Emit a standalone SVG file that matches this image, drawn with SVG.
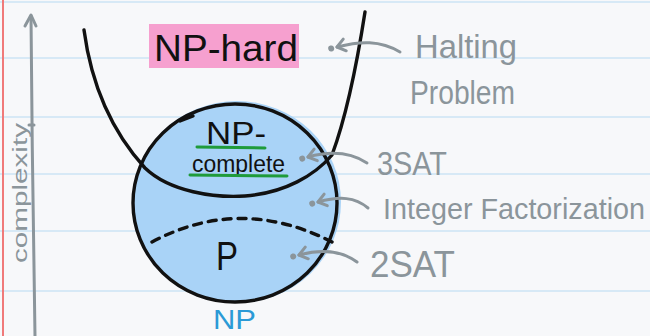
<svg xmlns="http://www.w3.org/2000/svg" width="650" height="336" viewBox="0 0 650 336">
<defs>
<style>
.paper{fill:#f7f8fa}
.rule{stroke:#cde5f4;stroke-width:1.6}
.ink{fill:none;stroke:#111;stroke-width:3.4;stroke-linecap:round;stroke-linejoin:round}
.gray{fill:none;stroke:#8b959b;stroke-width:3;stroke-linecap:round;stroke-linejoin:round}
.hand{font-family:"Liberation Sans","DejaVu Sans",sans-serif}
.note{fill:#8b959b}
.blk{fill:#111}
.grn{stroke:#1f9b3a;stroke-width:3;stroke-linecap:round}
</style>
<marker id="pt" viewBox="-14 -10 26 20" refX="0" refY="0" markerWidth="26" markerHeight="20" markerUnits="userSpaceOnUse" orient="auto" overflow="visible">
<path d="M-8,-6 L0,0 L-8,6" fill="none" stroke="#8b959b" stroke-width="3" stroke-linecap="round" stroke-linejoin="round"/>
<circle cx="6" cy="0" r="3" fill="#8b959b"/>
</marker>
</defs>
<rect class="paper" x="0" y="0" width="650" height="336"/>
<g id="paper-lines">
<line class="rule" x1="0" y1="2" x2="650" y2="2"/>
<line class="rule" x1="0" y1="58" x2="650" y2="58"/>
<line class="rule" x1="0" y1="117" x2="650" y2="117"/>
<line class="rule" x1="0" y1="174" x2="650" y2="174"/>
<line class="rule" x1="0" y1="231" x2="650" y2="231"/>
<line class="rule" x1="0" y1="291" x2="650" y2="291"/>
<line x1="3" y1="0" x2="3" y2="336" stroke="#f07a7a" stroke-width="2"/>
</g>
<g id="axis">
<path class="gray" d="M31,16 C32,120 33,240 35,336"/>
<path class="gray" d="M25,26 L31,15 L36,26"/>
<path class="gray" d="M29,125 L34,125"/>
<text class="hand note" font-size="21" transform="translate(27,263) rotate(-90)" textLength="140" lengthAdjust="spacingAndGlyphs">complexity</text>
</g>
<g id="np">
<ellipse cx="237" cy="202" rx="104" ry="101" fill="#a9d3f7"/>
<ellipse class="ink" cx="235" cy="203" rx="102" ry="99"/>
<path class="ink" d="M180,121 L193,116"/>
<text class="hand" font-size="28" fill="#2b9ad6" x="213" y="329" textLength="43" lengthAdjust="spacingAndGlyphs">NP</text>
</g>
<g id="p">
<path class="ink" d="M152,242 Q240,195 332,242" stroke-dasharray="8 7"/>
<text class="hand blk" font-size="40" x="216" y="270" textLength="22" lengthAdjust="spacingAndGlyphs">P</text>
</g>
<g id="np-hard">
<rect x="149" y="24" width="150" height="44" fill="#f6a0cf"/>
<path class="ink" d="M84,30 C92,90 115,135 145,168 C170,192 215,198 245,196 C285,193 315,175 332,155 C345,120 356,70 365,12"/>
<text class="hand blk" font-size="36" x="154" y="61" textLength="144" lengthAdjust="spacingAndGlyphs">NP-hard</text>
</g>
<g id="np-complete">
<text class="hand blk" font-size="31" x="206" y="144" textLength="60" lengthAdjust="spacingAndGlyphs">NP-</text>
<line class="grn" x1="197" y1="147" x2="265" y2="148"/>
<text class="hand blk" font-size="23" x="192" y="172" textLength="93" lengthAdjust="spacingAndGlyphs">complete</text>
<line class="grn" x1="190" y1="175" x2="287" y2="176"/>
</g>
<g id="connectors">
<path class="gray" d="M400,52 C380,40 360,41 337,47" marker-end="url(#pt)"/>
<path class="gray" d="M367,163 C350,152 330,151 308,157" marker-end="url(#pt)"/>
<path class="gray" d="M368,208 C355,197 340,196 318,202" marker-end="url(#pt)"/>
<path class="gray" d="M357,262 C342,251 322,249 299,255" marker-end="url(#pt)"/>
</g>
<g id="labels">
<text class="hand note" font-size="34" x="415" y="58" textLength="102" lengthAdjust="spacingAndGlyphs">Halting</text>
<text class="hand note" font-size="33" x="410" y="104" textLength="105" lengthAdjust="spacingAndGlyphs">Problem</text>
<text class="hand note" font-size="33" x="377" y="175" textLength="70" lengthAdjust="spacingAndGlyphs">3SAT</text>
<text class="hand note" font-size="29" x="383" y="219" textLength="262" lengthAdjust="spacingAndGlyphs">Integer Factorization</text>
<text class="hand note" font-size="37" x="370" y="277" textLength="85" lengthAdjust="spacingAndGlyphs">2SAT</text>
</g>
</svg>
